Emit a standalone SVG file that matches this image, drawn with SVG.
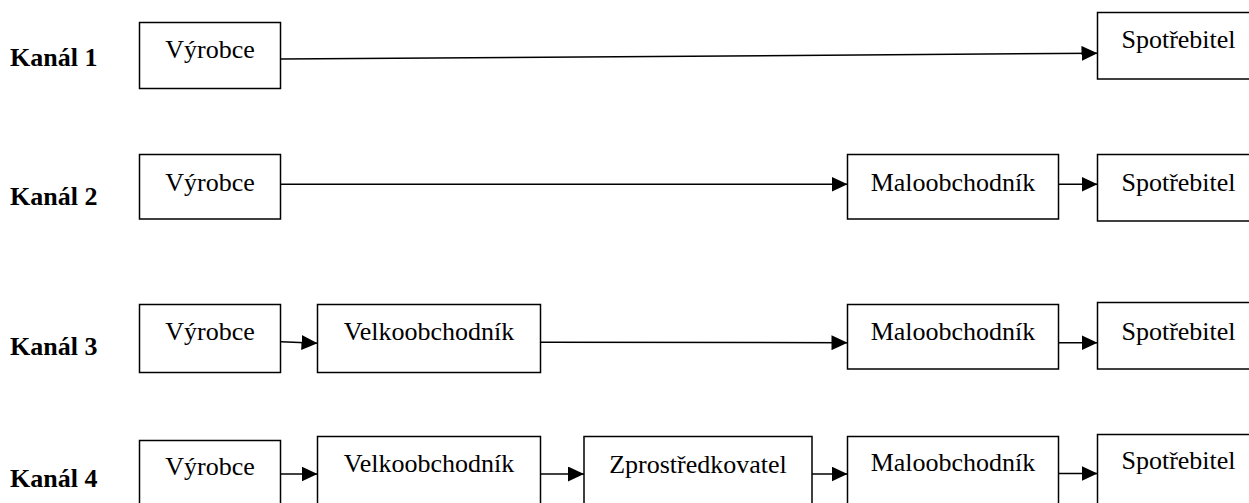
<svg xmlns="http://www.w3.org/2000/svg" width="1249" height="503" viewBox="0 0 1249 503">
<style>
.box{fill:#fff;stroke:#000;stroke-width:1.5}
.t{font-family:"Liberation Serif","Times New Roman",serif;font-size:26px;fill:#000;text-anchor:middle}
.k{font-family:"Liberation Serif","Times New Roman",serif;font-size:26px;font-weight:bold;fill:#000}
.c{stroke:#000;stroke-width:1.5;fill:none;marker-end:url(#ah)}
</style>
<defs>
<marker id="ah" markerUnits="userSpaceOnUse" markerWidth="16" markerHeight="15" refX="16" refY="7.5" orient="auto">
<path d="M0,0 L16,7.5 L0,15 z" fill="#000"/>
</marker>
</defs>
<rect width="1249" height="503" fill="#fff"/>
<g id="labels">
<text class="k" x="10" y="66">Kanál 1</text>
<text class="k" x="10" y="205">Kanál 2</text>
<text class="k" x="10" y="355">Kanál 3</text>
<text class="k" x="10" y="487">Kanál 4</text>
</g>
<g id="r1-vyrobce"><rect class="box" x="139.5" y="22.5" width="141" height="66"/><text class="t" x="210" y="58.3">Výrobce</text></g>
<g id="r1-spotrebitel"><rect class="box" x="1097.5" y="12.5" width="162" height="66.5"/><text class="t" x="1178.5" y="48.3">Spotřebitel</text></g>
<g id="r2-vyrobce"><rect class="box" x="139.5" y="154.5" width="141" height="64.5"/><text class="t" x="210" y="191">Výrobce</text></g>
<g id="r2-maloobchodnik"><rect class="box" x="847.5" y="154.5" width="211" height="64.5"/><text class="t" x="953" y="191">Maloobchodník</text></g>
<g id="r2-spotrebitel"><rect class="box" x="1097.5" y="154.5" width="162" height="66.5"/><text class="t" x="1178.5" y="191">Spotřebitel</text></g>
<g id="r3-vyrobce"><rect class="box" x="139.5" y="304.5" width="141" height="68"/><text class="t" x="210" y="340">Výrobce</text></g>
<g id="r3-velkoobchodnik"><rect class="box" x="317.5" y="304.5" width="223" height="68"/><text class="t" x="429" y="340">Velkoobchodník</text></g>
<g id="r3-maloobchodnik"><rect class="box" x="847.5" y="304.5" width="211" height="64.5"/><text class="t" x="953" y="340">Maloobchodník</text></g>
<g id="r3-spotrebitel"><rect class="box" x="1097.5" y="302.5" width="162" height="66.5"/><text class="t" x="1178.5" y="340">Spotřebitel</text></g>
<g id="r4-vyrobce"><rect class="box" x="139.5" y="440.5" width="141" height="70"/><text class="t" x="210" y="475">Výrobce</text></g>
<g id="r4-velkoobchodnik"><rect class="box" x="317.5" y="436.5" width="223" height="75"/><text class="t" x="429" y="472.3">Velkoobchodník</text></g>
<g id="r4-zprostredkovatel"><rect class="box" x="584" y="436.5" width="228" height="75"/><text class="t" x="698" y="472.7">Zprostředkovatel</text></g>
<g id="r4-maloobchodnik"><rect class="box" x="847.5" y="436.5" width="211" height="75"/><text class="t" x="953" y="470.7">Maloobchodník</text></g>
<g id="r4-spotrebitel"><rect class="box" x="1097.5" y="434.5" width="162" height="75"/><text class="t" x="1178.5" y="469.3">Spotřebitel</text></g>
<g id="connectors">
<line class="c" x1="281" y1="59" x2="1097.5" y2="53.3"/>
<line class="c" x1="281" y1="184.3" x2="847.5" y2="184.3"/>
<line class="c" x1="1058.5" y1="184.3" x2="1097.5" y2="184.3"/>
<line class="c" x1="281" y1="341.7" x2="317.5" y2="343.3"/>
<line class="c" x1="540.5" y1="342.3" x2="847.5" y2="342.7"/>
<line class="c" x1="1058.5" y1="342.7" x2="1097.5" y2="342.7"/>
<line class="c" x1="281" y1="474" x2="317.5" y2="474"/>
<line class="c" x1="540.5" y1="474" x2="584" y2="474"/>
<line class="c" x1="812" y1="474" x2="847.5" y2="474"/>
<line class="c" x1="1058.5" y1="473.5" x2="1097.5" y2="473.5"/>
</g>
</svg>
